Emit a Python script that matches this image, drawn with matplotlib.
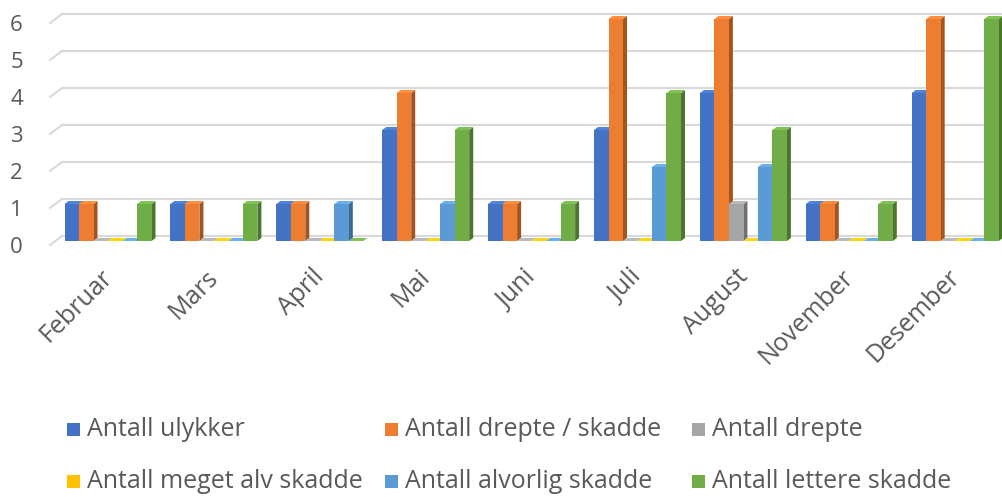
import numpy as np
import matplotlib
matplotlib.use("Agg")
import matplotlib.pyplot as plt
from matplotlib.patches import Polygon, Rectangle
from matplotlib.colors import to_rgb
from matplotlib.transforms import ScaledTranslation

plt.rcParams['font.family'] = ['Open Sans', 'DejaVu Sans']

months = ["Februar", "Mars", "April", "Mai", "Juni", "Juli", "August", "November", "Desember"]
series_names = ["Antall ulykker", "Antall drepte / skadde", "Antall drepte",
                "Antall meget alv skadde", "Antall alvorlig skadde", "Antall lettere skadde"]
ulykker = [1, 1, 1, 3, 1, 3, 4, 1, 4]
drepte_skadde = [1, 1, 1, 4, 1, 6, 6, 1, 6]
drepte = [0, 0, 0, 0, 0, 0, 1, 0, 0]
meget_alv = [0, 0, 0, 0, 0, 0, 0, 0, 0]
alvorlig = [0, 0, 1, 1, 0, 2, 2, 0, 0]
lettere = [1, 1, 0, 3, 1, 4, 3, 1, 6]
series = [ulykker, drepte_skadde, drepte, meget_alv, alvorlig, lettere]
colors = ["#4472C4", "#ED7D31", "#A5A5A5", "#FFC000", "#5B9BD5", "#70AD47"]
text_col = "#595959"

W, H = 1003, 497
fig = plt.figure(figsize=(W / 100, H / 100), dpi=100)

# axes geometry in pixels
ax_l, ax_r = 45, 1003
y0_px, y6_px = 241, 19
ax = fig.add_axes([ax_l / W, (H - y0_px) / H, (ax_r - ax_l) / W, (y0_px - y6_px) / H])
cat_px = 105.9
first_px = 108
xmin = -(first_px - ax_l) / cat_px
xmax = xmin + (ax_r - ax_l) / cat_px
ax.set_xlim(xmin, xmax)
ax.set_ylim(0, 6)
px_x = cat_px
px_y = (y0_px - y6_px) / 6

for s in ax.spines.values():
    s.set_visible(False)

# gridlines on the back wall, slanted at the left end
gdy = 5 / px_y
for v in range(7):
    yb = v + gdy
    ax.plot([xmin + (62 - ax_l) / px_x, xmax], [yb, yb], color="#d9d9d9", lw=1.5,
            clip_on=False, zorder=0)
    ax.plot([xmin + (50 - ax_l) / px_x, xmin + (62 - ax_l) / px_x], [yb - 9 / px_y, yb],
            color="#d9d9d9", lw=1.5, clip_on=False, zorder=0)

bw = 14.5 / px_x
dx = 4 / px_x
dy = 3 / px_y
x = np.arange(len(months))
n = len(series)
for j, (vals, c) in enumerate(zip(series, colors)):
    rgb = np.array(to_rgb(c))
    side = rgb * 0.68
    top = np.minimum(rgb * 1.08 + 0.03, 1)
    for i, v in enumerate(vals):
        x0 = x[i] - n * bw / 2 + j * bw
        z = 3 + j * 0.01
        ax.add_patch(Polygon([(x0 + bw, 0), (x0 + bw + dx, dy), (x0 + bw + dx, v + dy), (x0 + bw, v)],
                             closed=True, fc=side, ec="none", clip_on=False, zorder=z))
        ax.add_patch(Polygon([(x0, v), (x0 + dx, v + dy), (x0 + bw + dx, v + dy), (x0 + bw, v)],
                             closed=True, fc=top, ec="none", clip_on=False, zorder=z))
        if v > 0:
            ax.add_patch(Rectangle((x0, 0), bw, v, fc=c, ec="none", clip_on=False, zorder=z))

ax.set_yticks(range(7))
ax.set_yticklabels([str(v) for v in range(7)], fontsize=16, color=text_col)
ax.tick_params(axis="y", length=0, pad=16)
for lab in ax.get_yticklabels():
    lab.set_transform(lab.get_transform() + ScaledTranslation(0, -4 / 100, fig.dpi_scale_trans))

ax.set_xticks(x)
ax.set_xticklabels(months, rotation=45, ha="right", va="top", rotation_mode="anchor",
                   fontsize=18, color=text_col)
ax.tick_params(axis="x", length=0, pad=17)
for lab in ax.get_xticklabels():
    lab.set_transform(lab.get_transform() + ScaledTranslation(-8 / 100, 0, fig.dpi_scale_trans))

# legend: two rows, three columns
col_px = [67, 385, 692]
row_px = [430, 482]
for k, (name, c) in enumerate(zip(series_names, colors)):
    r, cidx = divmod(k, 3)
    xp, yp = col_px[cidx], row_px[r]
    fig.patches.append(Rectangle((xp / W, (H - yp - 6) / H), 13 / W, 13 / H,
                                 transform=fig.transFigure, fc=c, ec="none"))
    fig.text((xp + 20) / W, (H - yp) / H, name, fontsize=18, color=text_col,
             ha="left", va="center")

fig.savefig("out.png", dpi=100)
